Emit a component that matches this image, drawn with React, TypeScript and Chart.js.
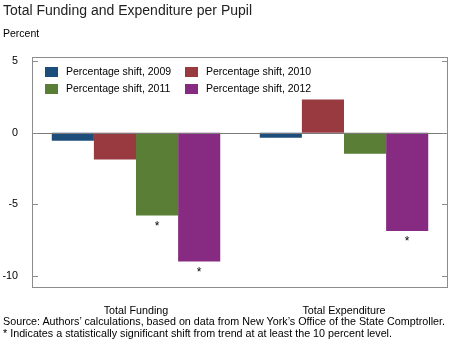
import React, { useEffect, useRef } from "react";
import { Chart, registerables } from "chart.js";

Chart.register(...registerables);

const categories = ["Total Funding", "Total Expenditure"];
const seriesLabels = [
  "Percentage shift, 2009",
  "Percentage shift, 2010",
  "Percentage shift, 2011",
  "Percentage shift, 2012",
];
const shift2009 = [-0.56, -0.35];
const shift2010 = [-1.86, 2.33];
const shift2011 = [-5.79, -1.47];
const shift2012 = [-9.0, -6.86];
const signif2009 = [false, false];
const signif2010 = [false, false];
const signif2011 = [true, false];
const signif2012 = [true, true];
const colors = ["#1d4e7b", "#983a40", "#5a7e36", "#872a82"];
const yTicks = [5, 0, -5, -10];

const FONT = "'Liberation Sans', Arial, sans-serif";

const decorPlugin = {
  id: "decor",
  afterDatasetsDraw(chart: any) {
    const { ctx, chartArea } = chart;
    const y = chart.scales.y;
    ctx.save();
    // zero line
    const y0 = Math.round(y.getPixelForValue(0)) + 0.5;
    ctx.strokeStyle = "#7a7a7a";
    ctx.lineWidth = 1;
    ctx.beginPath();
    ctx.moveTo(chartArea.left, y0);
    ctx.lineTo(chartArea.right, y0);
    ctx.stroke();
    // frame
    ctx.strokeStyle = "#8c8c8c";
    ctx.strokeRect(
      Math.round(chartArea.left) + 0.5,
      Math.round(chartArea.top) + 0.5,
      Math.round(chartArea.right - chartArea.left) - 1,
      Math.round(chartArea.bottom - chartArea.top) - 1
    );
    // inside tick marks
    ctx.strokeStyle = "#8c8c8c";
    yTicks.forEach((v) => {
      const py = Math.round(y.getPixelForValue(v)) + 0.5;
      ctx.beginPath();
      ctx.moveTo(chartArea.left, py);
      ctx.lineTo(chartArea.left + 6, py);
      ctx.moveTo(chartArea.right - 6, py);
      ctx.lineTo(chartArea.right, py);
      ctx.stroke();
    });
    // significance stars
    const signif = [signif2009, signif2010, signif2011, signif2012];
    ctx.fillStyle = "#000";
    ctx.font = `12px ${FONT}`;
    ctx.textAlign = "center";
    ctx.textBaseline = "middle";
    chart.data.datasets.forEach((ds: any, i: number) => {
      const meta = chart.getDatasetMeta(i);
      meta.data.forEach((bar: any, j: number) => {
        if (signif[i][j]) {
          ctx.fillText("*", bar.x, bar.y + 11);
        }
      });
    });
    // legend
    ctx.font = `10.5px ${FONT}`;
    ctx.textAlign = "left";
    const cols = [45, 185];
    const rows = [72, 89];
    seriesLabels.forEach((lab, i) => {
      const cx = cols[i % 2];
      const cy = rows[Math.floor(i / 2)];
      ctx.fillStyle = colors[i];
      ctx.fillRect(cx, cy - 5, 13, 10);
      ctx.fillStyle = "#000";
      ctx.fillText(lab, cx + 21, cy);
    });
    ctx.restore();
  },
};

export default function App() {
  const ref = useRef<HTMLCanvasElement>(null);
  useEffect(() => {
    if (!ref.current) return;
    const data = [shift2009, shift2010, shift2011, shift2012];
    const chart = new Chart(ref.current, {
      type: "bar",
      data: {
        labels: categories,
        datasets: data.map((d, i) => ({
          label: seriesLabels[i],
          data: d,
          backgroundColor: colors[i],
          borderWidth: 0,
          barPercentage: 1,
          categoryPercentage: 0.81,
        })),
      },
      options: {
        animation: false,
        responsive: false,
        devicePixelRatio: 1,
        layout: { padding: { top: 57, right: 2, bottom: 0, left: 0 } },
        plugins: {
          legend: { display: false },
          tooltip: { enabled: false },
          title: { display: false },
        },
        scales: {
          x: {
            grid: { display: false, drawTicks: false },
            border: { display: false },
            ticks: {
              color: "#000",
              font: { family: FONT, size: 10.75 },
              padding: 17,
            },
            afterFit: (s: any) => {
              s.height = 64;
            },
          },
          y: {
            min: -10.85,
            max: 5.3,
            afterBuildTicks: (s: any) => {
              s.ticks = yTicks.map((v) => ({ value: v }));
            },
            grid: { display: false, drawTicks: false },
            border: { display: false },
            ticks: {
              color: "#000",
              font: { family: FONT, size: 10.75 },
              padding: 14,
            },
            afterFit: (s: any) => {
              s.width = 32;
            },
          },
        },
      },
      plugins: [decorPlugin],
    });
    return () => chart.destroy();
  }, []);

  const textStyle: React.CSSProperties = {
    position: "absolute",
    left: 3,
    fontFamily: FONT,
    color: "#000",
    whiteSpace: "nowrap",
    lineHeight: "1",
  };

  return (
    <div style={{ position: "absolute", left: 0, top: 0, width: 450, height: 352, background: "#fff" }}>
      <canvas ref={ref} width={450} height={352} style={{ position: "absolute", left: 0, top: 0 }} />
      <div style={{ ...textStyle, top: 3, fontSize: 14, color: "#222" }}>
        Total Funding and Expenditure per Pupil
      </div>
      <div style={{ ...textStyle, top: 28, fontSize: 10.5 }}>Percent</div>
      <div style={{ ...textStyle, top: 316, fontSize: 10.75 }}>
        Source: Authors’ calculations, based on data from New York’s Office of the State Comptroller.
      </div>
      <div style={{ ...textStyle, top: 328, fontSize: 10.75 }}>
        * Indicates a statistically significant shift from trend at at least the 10 percent level.
      </div>
    </div>
  );
}
